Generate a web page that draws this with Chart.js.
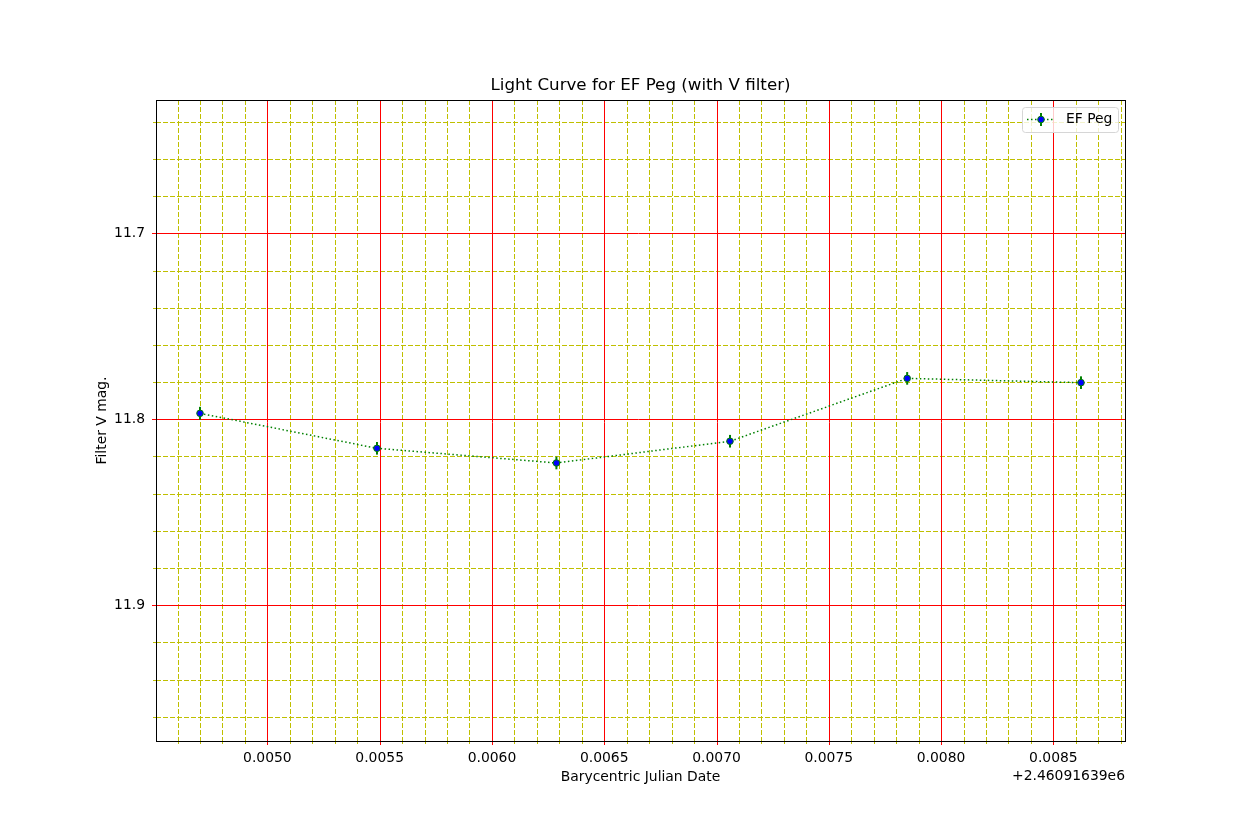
<!DOCTYPE html>
<html>
<head>
<meta charset="utf-8">
<script src="https://cdn.jsdelivr.net/npm/chart.js@4"></script>
<style>
  html, body { margin: 0; padding: 0; background: #fff; }
  #wrap { width: 1250px; height: 833px; }
</style>
</head>
<body>
<div id="wrap"><canvas id="lc" width="1250" height="833"></canvas></div>
<script>
// BJD minus the 2460916.39 offset, and V magnitudes
const bjd = [0.00470, 0.005488, 0.006287, 0.00706, 0.007849, 0.008623];
const vmag = [11.7968, 11.8156, 11.8235, 11.8118, 11.7780, 11.7803];
const vErr = [0.0035, 0.0034, 0.0034, 0.0034, 0.0034, 0.0034];
const xTicks = [0.0050, 0.0055, 0.0060, 0.0065, 0.0070, 0.0075, 0.0080, 0.0085];
const yTicks = [11.7, 11.8, 11.9];
const xRange = [0.004504, 0.008819];
const yRange = [11.6283, 11.9730];
const xMinorStep = 0.0001;
const yMinorStep = 0.02;

const FONT = '"DejaVu Sans", Arial, sans-serif';
const GREEN = '#008000';
const YEL = '#bfbf00';
const RED = '#ff0000';

const points = bjd.map((x, i) => ({ x: x, y: vmag[i] }));

function minorValues(lo, hi, step, majors) {
  const out = [];
  const k0 = Math.ceil(lo / step - 1e-6), k1 = Math.floor(hi / step + 1e-6);
  for (let k = k0; k <= k1; k++) {
    const v = k * step;
    if (!majors.some(m => Math.abs(m - v) < step * 0.01)) out.push(v);
  }
  return out;
}

// grid: yellow dashed minors first, then solid red majors on top
const gridLines = {
  id: 'gridLines',
  beforeDatasetsDraw(chart) {
    const { ctx, chartArea: a, scales: { x, y } } = chart;
    const xm = minorValues(xRange[0], xRange[1], xMinorStep, xTicks);
    const ym = minorValues(yRange[0], yRange[1], yMinorStep, yTicks);
    const px = v => Math.round(x.getPixelForValue(v)) + 0.5;
    const py = v => Math.round(y.getPixelForValue(v)) + 0.5;
    ctx.save();
    ctx.lineWidth = 1;
    ctx.strokeStyle = YEL;
    ctx.setLineDash([5, 2]);
    xm.forEach(v => { ctx.beginPath(); ctx.moveTo(px(v), a.top); ctx.lineTo(px(v), a.bottom); ctx.stroke(); });
    ym.forEach(v => { ctx.beginPath(); ctx.moveTo(a.left, py(v)); ctx.lineTo(a.right, py(v)); ctx.stroke(); });
    ctx.setLineDash([]);
    // minor tick marks outside the axes
    xm.forEach(v => { ctx.beginPath(); ctx.moveTo(px(v), a.bottom); ctx.lineTo(px(v), a.bottom + 3); ctx.stroke(); });
    ym.forEach(v => { ctx.beginPath(); ctx.moveTo(a.left - 3, py(v)); ctx.lineTo(a.left, py(v)); ctx.stroke(); });
    // major lines and ticks
    ctx.strokeStyle = RED;
    xTicks.forEach(v => { ctx.beginPath(); ctx.moveTo(px(v), a.top); ctx.lineTo(px(v), a.bottom + 4); ctx.stroke(); });
    yTicks.forEach(v => { ctx.beginPath(); ctx.moveTo(a.left - 4, py(v)); ctx.lineTo(a.right, py(v)); ctx.stroke(); });
    // frame
    ctx.strokeStyle = '#000';
    ctx.strokeRect(Math.round(a.left) + 0.5, Math.round(a.top) + 0.5, Math.round(a.right - a.left), Math.round(a.bottom - a.top));
    ctx.restore();
  }
};

// vertical error bars, drawn after the dotted line and before the markers
const errorBars = {
  id: 'errorBars',
  afterDatasetDraw(chart, args) {
    if (args.index !== 1) return;
    const { ctx, scales: { x, y } } = chart;
    ctx.save();
    ctx.strokeStyle = GREEN;
    ctx.lineWidth = 2;
    bjd.forEach((bx, i) => {
      const px = x.getPixelForValue(bx);
      ctx.beginPath();
      ctx.moveTo(px, y.getPixelForValue(vmag[i] - vErr[i]));
      ctx.lineTo(px, y.getPixelForValue(vmag[i] + vErr[i]));
      ctx.stroke();
    });
    ctx.restore();
  }
};

// title, axis labels, offset text and the legend box
const labels = {
  id: 'labels',
  afterDraw(chart) {
    const { ctx, chartArea: a } = chart;
    const cx = (a.left + a.right) / 2;
    ctx.save();
    ctx.fillStyle = '#000';
    ctx.textAlign = 'center';
    ctx.textBaseline = 'middle';
    ctx.font = '16.7px ' + FONT;
    ctx.fillText('Light Curve for EF Peg (with V filter)', cx, 86);

    ctx.font = '13.9px ' + FONT;
    ctx.fillText('Barycentric Julian Date', cx, 777);
    ctx.textAlign = 'right';
    ctx.fillText('+2.46091639e6', a.right, 776);

    ctx.save();
    ctx.translate(102, (a.top + a.bottom) / 2);
    ctx.rotate(-Math.PI / 2);
    ctx.textAlign = 'center';
    ctx.fillText('Filter V mag.', 0, 0);
    ctx.restore();

    // legend
    const lx = 1022, ly = 107, lw = 96, lh = 25;
    ctx.beginPath();
    ctx.roundRect(lx + 0.5, ly + 0.5, lw, lh, 3);
    ctx.fillStyle = 'rgba(255,255,255,0.8)';
    ctx.fill();
    ctx.strokeStyle = '#d6d6d6';
    ctx.lineWidth = 1;
    ctx.stroke();
    const my = ly + 12.5;
    ctx.strokeStyle = GREEN;
    ctx.lineWidth = 1.5;
    ctx.setLineDash([1.5, 2.5]);
    ctx.beginPath(); ctx.moveTo(lx + 5, my); ctx.lineTo(lx + 33, my); ctx.stroke();
    ctx.setLineDash([]);
    ctx.lineWidth = 2;
    ctx.beginPath(); ctx.moveTo(lx + 19, my - 6.5); ctx.lineTo(lx + 19, my + 6.5); ctx.stroke();
    ctx.beginPath(); ctx.arc(lx + 19, my, 3.3, 0, Math.PI * 2);
    ctx.fillStyle = '#0000ff'; ctx.fill();
    ctx.lineWidth = 1; ctx.strokeStyle = GREEN; ctx.stroke();
    ctx.fillStyle = '#000';
    ctx.textAlign = 'left';
    ctx.font = '13.9px ' + FONT;
    ctx.fillText('EF Peg', lx + 44, my);
    ctx.restore();
  }
};

new Chart(document.getElementById('lc'), {
  type: 'scatter',
  data: {
    datasets: [
      {
        label: 'EF Peg markers',
        data: points,
        showLine: false,
        pointRadius: 3.3,
        pointBackgroundColor: '#0000ff',
        pointBorderColor: GREEN,
        pointBorderWidth: 1
      },
      {
        label: 'EF Peg',
        data: points,
        showLine: true,
        pointRadius: 0,
        borderColor: GREEN,
        borderWidth: 1.5,
        borderDash: [1.5, 2.5],
        fill: false,
        tension: 0
      }
    ]
  },
  options: {
    responsive: false,
    animation: false,
    events: [],
    layout: { padding: { left: 0, top: 100, right: 125, bottom: 0 } },
    plugins: { legend: { display: false }, title: { display: false }, tooltip: { enabled: false } },
    scales: {
      x: {
        type: 'linear',
        min: xRange[0],
        max: xRange[1],
        afterBuildTicks: s => { s.ticks = xTicks.map(v => ({ value: v })); },
        afterFit: s => { s.height = 92; },
        grid: { display: false, drawOnChartArea: false, tickLength: 4 },
        border: { display: false },
        ticks: {
          color: '#000', padding: 5, maxRotation: 0, autoSkip: false,
          font: { family: FONT, size: 13.9 },
          callback: v => v.toFixed(4)
        }
      },
      y: {
        type: 'linear',
        reverse: true,
        min: yRange[0],
        max: yRange[1],
        afterBuildTicks: s => { s.ticks = yTicks.map(v => ({ value: v })); },
        afterFit: s => { s.width = 156; },
        grid: { display: false, drawOnChartArea: false, tickLength: 4 },
        border: { display: false },
        ticks: {
          color: '#000', padding: 7, autoSkip: false,
          font: { family: FONT, size: 13.9 },
          callback: v => v.toFixed(1)
        }
      }
    }
  },
  plugins: [gridLines, errorBars, labels]
});
</script>
</body>
</html>
